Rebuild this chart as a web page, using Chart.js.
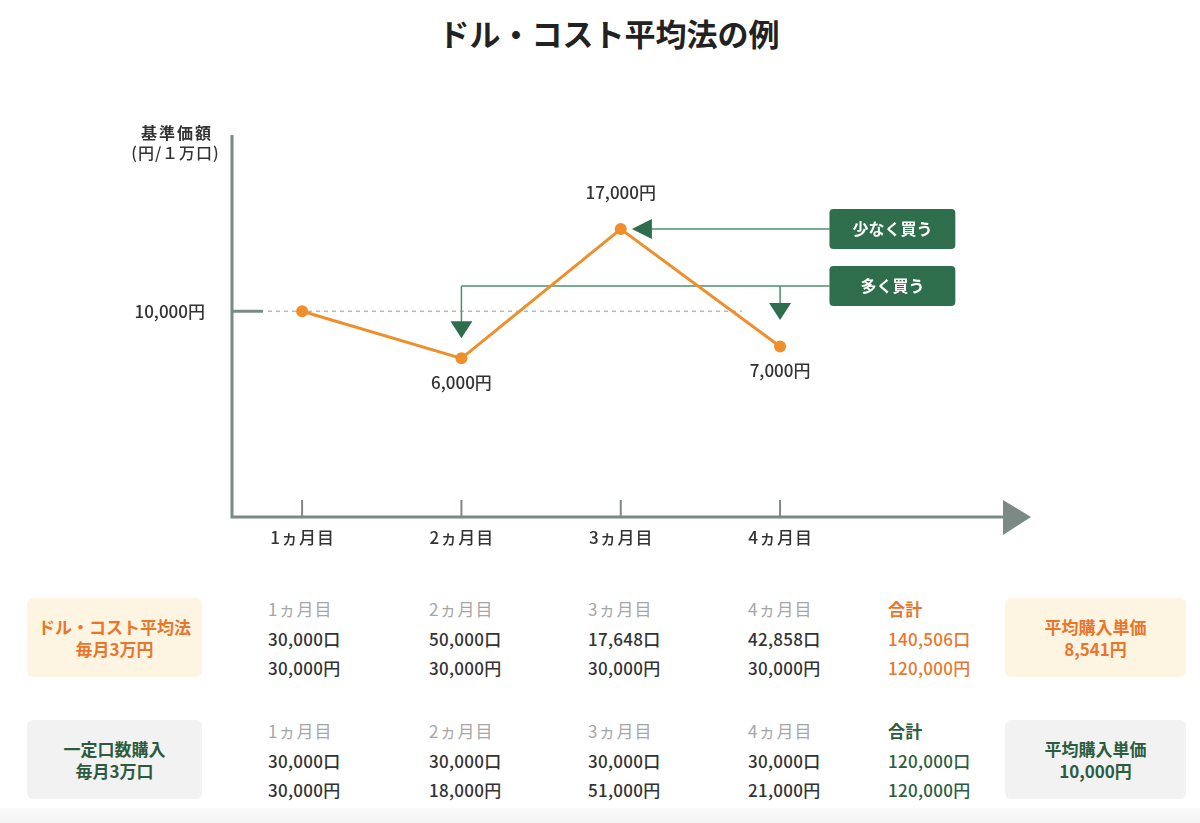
<!DOCTYPE html>
<html lang="ja">
<head>
<meta charset="utf-8">
<script src="https://cdn.jsdelivr.net/npm/chart.js@4.4.1/dist/chart.umd.min.js"></script>
<style>
  html, body { margin: 0; padding: 0; background: #fff; }
  body { width: 1200px; height: 823px; position: relative; overflow: hidden;
         font-family: "Noto Sans CJK JP", "Noto Sans", sans-serif; color: #333; }
  #title { position: absolute; left: 0; width: 1218px; top: 11px; text-align: center;
           font-size: 31px; font-weight: 700; color: #222; margin: 0; line-height: 44px; }
  #chartWrap { position: absolute; left: 0; top: 0; width: 1200px; height: 570px; }
  .box { position: absolute; border-radius: 6px; display: flex; flex-direction: column;
         justify-content: center; align-items: center; font-size: 17px; font-weight: 700;
         line-height: 22px; text-align: center; }
  .cream { background: #fdf4e2; color: #ea762c; }
  .grey { background: #f2f2f2; color: #2c5c40; }
  .col { position: absolute; font-size: 17px; font-weight: 500; line-height: 29.5px; color: #333;
         letter-spacing: 0.3px; }
  .col .m { color: #a6a6a6; font-weight: 400; letter-spacing: 1px; }
  .col.orange { color: #ea762c; }
  .col.green { color: #2c5c40; }
  .col.total .m { font-weight: 700; letter-spacing: 0.3px; }
  .col.orange .m { color: #ea762c; }
  .col.green .m { color: #2c5c40; }
  #band { position: absolute; left: 0; top: 808px; width: 1200px; height: 15px;
          background: linear-gradient(#fbfbfb, #f3f3f3); }
</style>
</head>
<body>
<h1 id="title">ドル・コスト平均法の例</h1>
<div id="chartWrap"><canvas id="chart"></canvas></div>
<div id="table"></div>
<div id="band"></div>
<script>
// chart values
const months = [1, 2, 3, 4];
const monthLabels = ['1ヵ月目', '2ヵ月目', '3ヵ月目', '4ヵ月目'];
const prices = [10000, 6000, 17000, 7000];
const priceLabels = ['', '6,000円', '17,000円', '7,000円'];
const priceLabelSide = ['', 'below', 'above', 'below'];
const refPrice = 10000;
const refLabel = '10,000円';
const buyLess = { text: '少なく買う', level: 17000, tip: 3.07 };
const buyMore = { text: '多く買う', level: 12150, drops: [[2, 7700], [4, 9250]] };

// table values
const dcaUnits = ['30,000口', '50,000口', '17,648口', '42,858口'];
const dcaYen = ['30,000円', '30,000円', '30,000円', '30,000円'];
const dcaTotal = ['140,506口', '120,000円'];
const dcaAverage = '8,541円';
const fixedUnits = ['30,000口', '30,000口', '30,000口', '30,000口'];
const fixedYen = ['30,000円', '18,000円', '51,000円', '21,000円'];
const fixedTotal = ['120,000口', '120,000円'];
const fixedAverage = '10,000円';

const AXIS = '#7b8a84';
const ORANGE = '#ef8f2c';
const GREEN = '#2f6e4c';
const GREEN_LINE = '#4f8f6b';
const FONT = '"Noto Sans CJK JP", "Noto Sans", sans-serif';

function tri(ctx, pts) {
    ctx.beginPath();
    ctx.moveTo(pts[0][0], pts[0][1]);
    ctx.lineTo(pts[1][0], pts[1][1]);
    ctx.lineTo(pts[2][0], pts[2][1]);
    ctx.closePath();
    ctx.fill();
}

function roundRect(ctx, x, y, w, h, r) {
    ctx.beginPath();
    ctx.roundRect(x, y, w, h, r);
    ctx.fill();
}

function spaced(ctx, text, px, py, sp) {
    // centred text with letter spacing
    const chars = [...text];
    const widths = chars.map(c => ctx.measureText(c).width);
    const total = widths.reduce((s, w) => s + w, 0) + sp * (chars.length - 1);
    let cx = px - total / 2;
    const align = ctx.textAlign;
    ctx.textAlign = 'left';
    chars.forEach((c, i) => {
        ctx.fillText(c, cx, py);
        cx += widths[i] + sp;
    });
    ctx.textAlign = align;
}

const axesPlugin = {
    id: 'axesPlugin',
    beforeDatasetsDraw(chart) {
        const { ctx, chartArea: a, scales: { x, y } } = chart;
        ctx.save();
        // dotted reference line
        const ry = y.getPixelForValue(refPrice);
        ctx.strokeStyle = '#b3bcb8';
        ctx.lineWidth = 1.5;
        ctx.setLineDash([4, 4]);
        ctx.beginPath();
        ctx.moveTo(a.left + 36, ry);
        ctx.lineTo(x.getPixelForValue(3.76), ry);
        ctx.stroke();
        ctx.setLineDash([]);

        // axes
        ctx.strokeStyle = AXIS;
        ctx.lineWidth = 3;
        ctx.beginPath();
        ctx.moveTo(a.left, a.top);
        ctx.lineTo(a.left, a.bottom);
        ctx.lineTo(a.right - 26, a.bottom);
        ctx.moveTo(a.left, ry);
        ctx.lineTo(a.left + 31, ry);
        ctx.stroke();
        ctx.fillStyle = AXIS;
        tri(ctx, [[a.right - 28, a.bottom - 17], [a.right, a.bottom], [a.right - 28, a.bottom + 18]]);

        // x ticks and labels
        ctx.lineWidth = 2;
        ctx.font = '500 17px ' + FONT;
        ctx.textAlign = 'center';
        ctx.textBaseline = 'middle';
        months.forEach((m, i) => {
            const px = x.getPixelForValue(m);
            ctx.strokeStyle = AXIS;
            ctx.beginPath();
            ctx.moveTo(px, a.bottom - 17);
            ctx.lineTo(px, a.bottom);
            ctx.stroke();
            ctx.fillStyle = '#333';
            spaced(ctx, monthLabels[i], px, a.bottom + 21, 1);
        });

        // y labels
        ctx.font = '500 17px ' + FONT;
        ctx.textAlign = 'right';
        ctx.fillText(refLabel, a.left - 27, ry);
        ctx.font = '700 16px ' + FONT;
        ctx.textAlign = 'center';
        spaced(ctx, '基準価額', a.left - 56, a.top - 2, 2);
        ctx.font = '500 16px ' + FONT;
        spaced(ctx, '(円/１万口)', a.left - 57, a.top + 18, 1);

        // arrows and boxes
        const bx0 = x.getPixelForValue(4.31), bx1 = x.getPixelForValue(5.10);
        const y1 = y.getPixelForValue(buyLess.level);
        const y2 = y.getPixelForValue(buyMore.level);
        const tipX = x.getPixelForValue(buyLess.tip);
        ctx.strokeStyle = GREEN_LINE;
        ctx.lineWidth = 1.5;
        ctx.beginPath();
        ctx.moveTo(bx0, y1);
        ctx.lineTo(tipX + 18, y1);
        ctx.moveTo(bx0, y2);
        ctx.lineTo(x.getPixelForValue(buyMore.drops[0][0]), y2);
        buyMore.drops.forEach(([dx, dv]) => {
            const px = x.getPixelForValue(dx);
            ctx.moveTo(px, y2);
            ctx.lineTo(px, y.getPixelForValue(dv) - 16);
        });
        ctx.stroke();
        ctx.fillStyle = GREEN;
        tri(ctx, [[tipX, y1], [tipX + 20, y1 - 10], [tipX + 20, y1 + 10]]);
        buyMore.drops.forEach(([dx, dv]) => {
            const px = x.getPixelForValue(dx);
            const ty = y.getPixelForValue(dv);
            tri(ctx, [[px - 11, ty - 17], [px + 11, ty - 17], [px, ty]]);
        });
        ctx.fillStyle = GREEN;
        roundRect(ctx, bx0, y1 - 20, bx1 - bx0, 40, 4);
        roundRect(ctx, bx0, y2 - 20, bx1 - bx0, 40, 4);
        ctx.fillStyle = '#fff';
        ctx.font = '700 16px ' + FONT;
        ctx.fillText(buyLess.text, (bx0 + bx1) / 2, y1);
        ctx.fillText(buyMore.text, (bx0 + bx1) / 2, y2);
        ctx.restore();
    },
    afterDatasetsDraw(chart) {
        const { ctx, scales: { x, y } } = chart;
        ctx.save();
        ctx.font = '500 17px ' + FONT;
        ctx.fillStyle = '#333';
        ctx.textAlign = 'center';
        ctx.textBaseline = 'middle';
        prices.forEach((p, i) => {
            if (!priceLabels[i]) return;
            const px = x.getPixelForValue(months[i]);
            const py = y.getPixelForValue(p);
            ctx.fillText(priceLabels[i], px, priceLabelSide[i] === 'above' ? py - 36 : py + 24);
        });
        ctx.restore();
    }
};

new Chart(document.getElementById('chart'), {
    type: 'line',
    data: {
        datasets: [{
            data: months.map((m, i) => ({ x: m, y: prices[i] })),
            borderColor: ORANGE,
            backgroundColor: ORANGE,
            borderWidth: 3,
            pointRadius: 6,
            pointHoverRadius: 6,
            pointBorderWidth: 0,
            tension: 0,
            clip: false
        }]
    },
    options: {
        responsive: true,
        maintainAspectRatio: false,
        animation: false,
        layout: { padding: { left: 232, right: 169, top: 135, bottom: 53 } },
        plugins: { legend: { display: false }, tooltip: { enabled: false } },
        scales: {
            x: { type: 'linear', min: 0.56, max: 5.575, display: false },
            y: { min: -7500, max: 25000, display: false }
        }
    },
    plugins: [axesPlugin]
});

// summary table below the chart
function addBox(cls, lines, left, top) {
    const d = document.createElement('div');
    d.className = 'box ' + cls;
    d.style.left = left + 'px';
    d.style.top = top + 'px';
    d.style.width = (left > 500 ? 181 : 175) + 'px';
    d.style.height = '79px';
    d.innerHTML = lines.map(t => '<div>' + t + '</div>').join('');
    document.getElementById('table').appendChild(d);
}

function addCol(cls, lines, left, top) {
    const d = document.createElement('div');
    d.className = 'col ' + cls;
    d.style.left = left + 'px';
    d.style.top = top + 'px';
    d.innerHTML = '<div class="m">' + lines[0] + '</div><div>' + lines[1] + '</div><div>' + lines[2] + '</div>';
    document.getElementById('table').appendChild(d);
}

const colX = [268, 429, 588, 748];
const rows = [
    { top: 594, cls: 'cream', colCls: 'orange', name: ['ドル・コスト平均法', '毎月3万円'], units: dcaUnits, yen: dcaYen, total: dcaTotal, avg: dcaAverage },
    { top: 716, cls: 'grey', colCls: 'green', name: ['一定口数購入', '毎月3万口'], units: fixedUnits, yen: fixedYen, total: fixedTotal, avg: fixedAverage }
];
rows.forEach(r => {
    addBox(r.cls, r.name, 27, r.top + 4);
    months.forEach((m, i) => addCol('', [monthLabels[i], r.units[i], r.yen[i]], colX[i], r.top));
    addCol('total ' + r.colCls, ['合計', r.total[0], r.total[1]], 888, r.top);
    addBox(r.cls, ['平均購入単価', r.avg], 1005, r.top + 4);
});
</script>
</body>
</html>
